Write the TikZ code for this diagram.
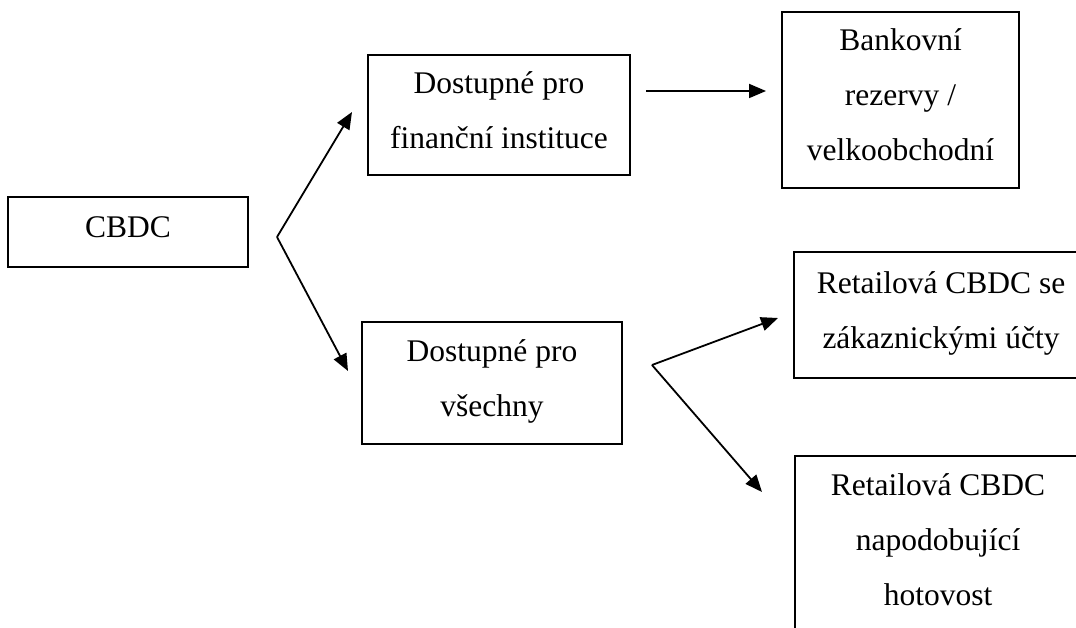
\documentclass[tikz,border=0pt]{standalone}
\usepackage{fontspec}
\setmainfont{Liberation Serif}
\usetikzlibrary{arrows.meta}
\newcommand{\ls}{\rule[-21.5pt]{0pt}{55pt}}
\tikzset{
  boxnode/.style={draw=black, line width=1.4pt, inner sep=0pt, align=center,
    font=\fontsize{31.5pt}{55pt}\selectfont},
  conn/.style={line width=1.8pt, -{Triangle[length=17pt,width=14pt]}}
}
\begin{document}
\begin{tikzpicture}[x=1pt,y=-1pt]
\useasboundingbox (0,0) rectangle (1076,628);
\clip (0,0) rectangle (1076,628);
\fill[white] (0,0) rectangle (1076,628);

\node[boxnode, minimum width=240pt, minimum height=70pt] (cbdc) at (128,232) {\ls CBDC};
\node[boxnode, minimum width=262pt, minimum height=120pt] (fin) at (499,115) {\ls Dostupné pro\\ \ls finanční instituce};
\node[boxnode, minimum width=237pt, minimum height=176pt] (bank) at (900.5,100) {\ls Bankovní\\ \ls rezervy /\\ \ls velkoobchodní};
\node[boxnode, minimum width=260pt, minimum height=122pt] (all) at (492,383) {\ls Dostupné pro\\ \ls všechny};
\node[boxnode, minimum width=294pt, minimum height=126pt] (acc) at (941,315) {\ls Retailová CBDC se\\ \ls zákaznickými účty};
\node[boxnode, minimum width=286pt, minimum height=176pt] (cash) at (938,544) {\ls Retailová CBDC\\ \ls napodobující\\ \ls hotovost};

\coordinate (b1) at (277,237);
\coordinate (t1) at (352,112);
\coordinate (t2) at (348,371);
\coordinate (h1) at (646,91);
\coordinate (h2) at (766,91);
\coordinate (b2) at (652,365);
\coordinate (t3) at (778,318);
\coordinate (t4) at (762,492);

\draw[conn] (b1) -- (t1);
\draw[conn] (b1) -- (t2);
\draw[conn] (h1) -- (h2);
\draw[conn] (b2) -- (t3);
\draw[conn] (b2) -- (t4);
\end{tikzpicture}
\end{document}
